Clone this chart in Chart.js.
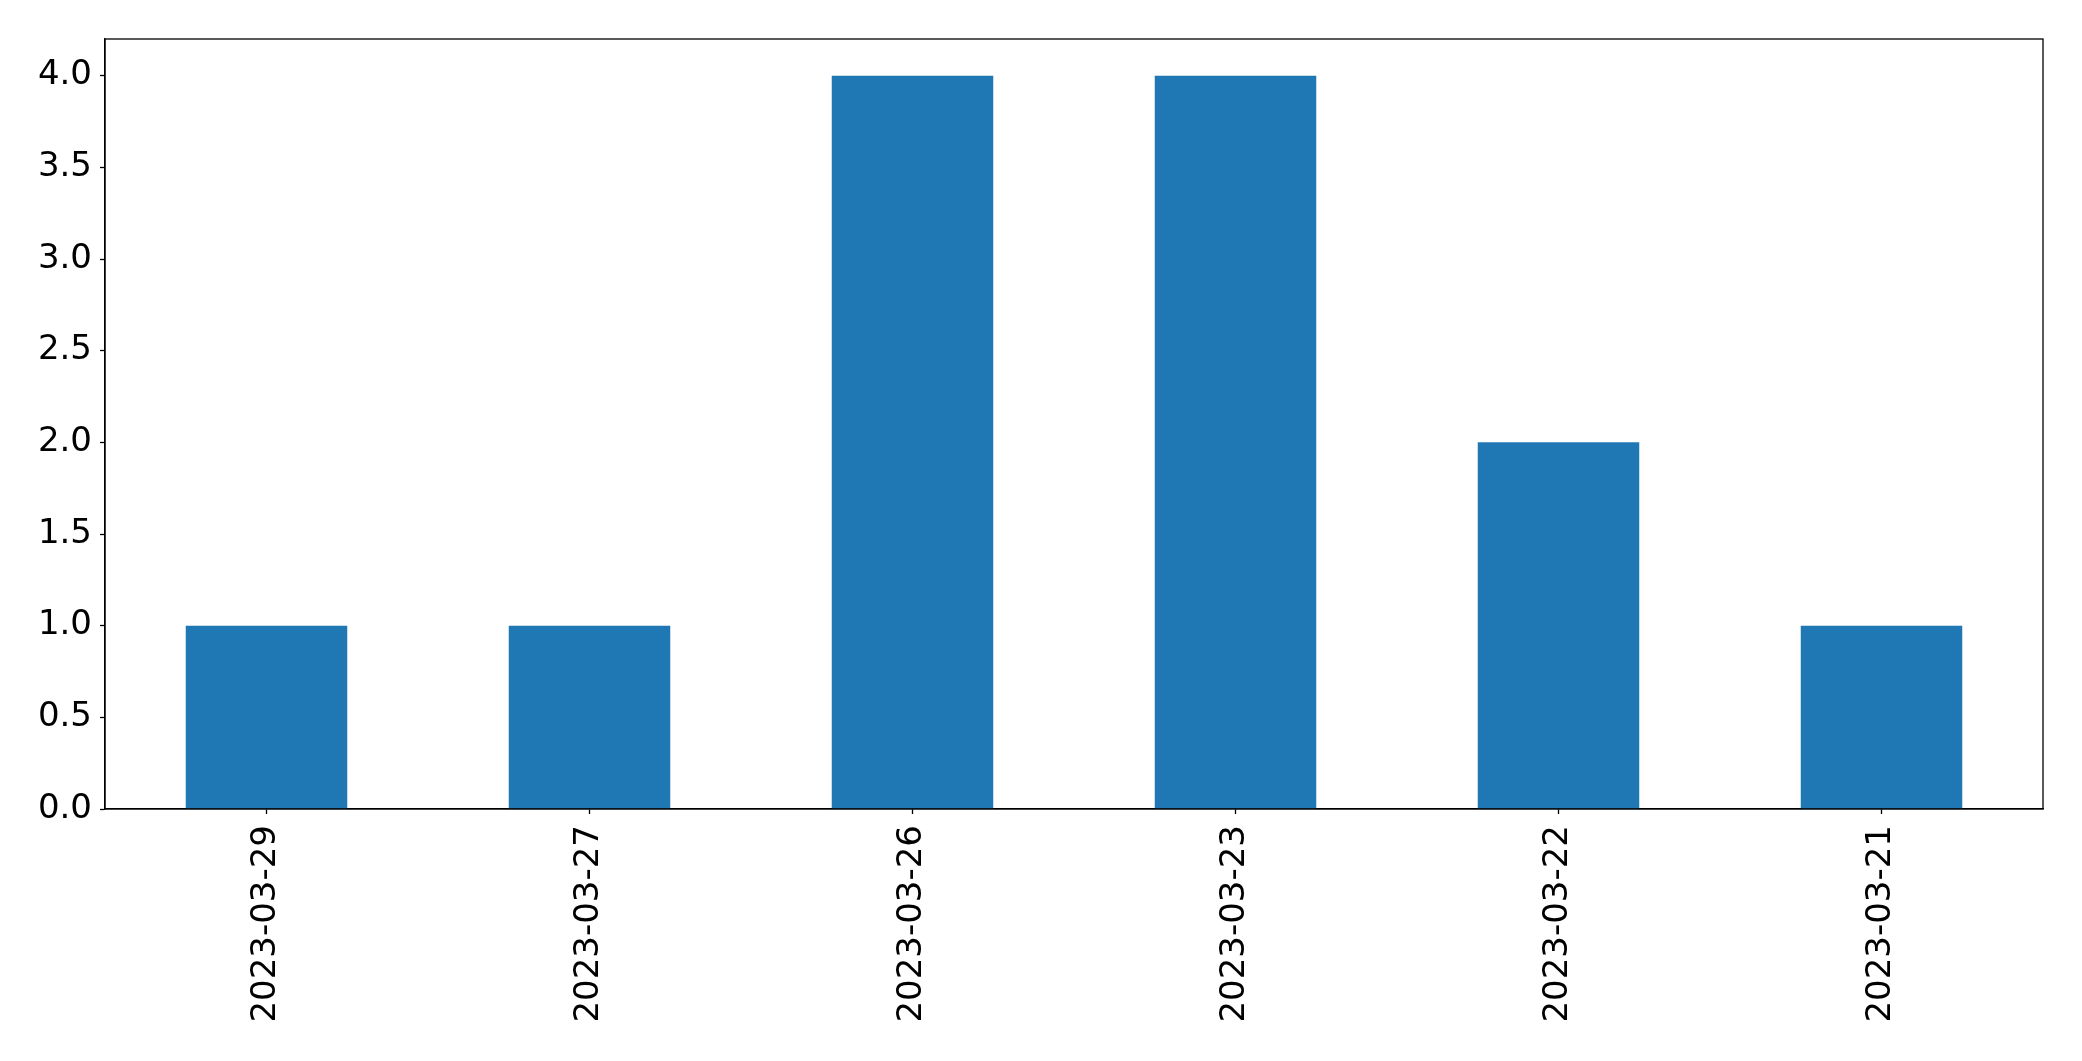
<!DOCTYPE html>
<html>
<head>
<meta charset="utf-8">
<script src="https://cdn.jsdelivr.net/npm/chart.js@4"></script>
<style>
	html, body { margin: 0; padding: 0; background: #ffffff; }
	#wrap { width: 2082px; height: 1061px; }
</style>
</head>
<body>
<div id="wrap"><canvas id="dateChart" width="2082" height="1061"></canvas></div>
<script>
// data
const dates = ["2023-03-29", "2023-03-27", "2023-03-26", "2023-03-23", "2023-03-22", "2023-03-21"];
const counts = [1, 1, 4, 4, 2, 1];
const yTicks = [0, 0.5, 1, 1.5, 2, 2.5, 3, 3.5, 4];

// frame round the plot area, like the matplotlib axes box
const frameBox = {
	id: "frameBox",
	afterDraw(chart) {
		const a = chart.chartArea;
		const ctx = chart.ctx;
		ctx.save();
		ctx.strokeStyle = "#000000";
		ctx.lineWidth = 1.3;
		ctx.strokeRect(a.left, a.top, a.right - a.left, a.bottom - a.top);
		ctx.restore();
	},
};

const tickFont = { family: "'DejaVu Sans'", size: 34 };

const dateChartCtx = document.getElementById("dateChart");
var dateChart = new Chart(dateChartCtx, {
	type: "bar",
	data: {
		labels: dates,
		datasets: [
			{
				label: "",
				data: counts,
				backgroundColor: "#1f77b4",
				barPercentage: 0.5,
				categoryPercentage: 1.0,
			},
		],
	},
	options: {
		responsive: false,
		animation: false,
		layout: { padding: { top: 39, right: 39, left: 0, bottom: 0 } },
		plugins: {
			legend: { display: false },
			tooltip: { enabled: false },
		},
		scales: {
			x: {
				offset: true,
				grid: { offset: false, drawOnChartArea: false, tickLength: 5, tickColor: "#000000", tickWidth: 1.3 },
				border: { color: "#000000", width: 1.3 },
				ticks: {
					color: "#000000",
					font: tickFont,
					minRotation: 90,
					maxRotation: 90,
					padding: 11,
				},
				afterFit: (scale) => {
					scale.height = 252;
				},
			},
			y: {
				min: 0,
				max: 4.2,
				grid: { drawOnChartArea: false, tickLength: 5, tickColor: "#000000", tickWidth: 1.3 },
				border: { color: "#000000", width: 1.3 },
				ticks: {
					color: "#000000",
					font: tickFont,
					padding: 8,
					callback: (value) => Number(value).toFixed(1),
				},
				afterBuildTicks: (scale) => {
					scale.ticks = yTicks.map((v) => ({ value: v }));
				},
				afterFit: (scale) => {
					scale.width = 105;
				},
			},
		},
	},
	plugins: [frameBox],
});
</script>
</body>
</html>
